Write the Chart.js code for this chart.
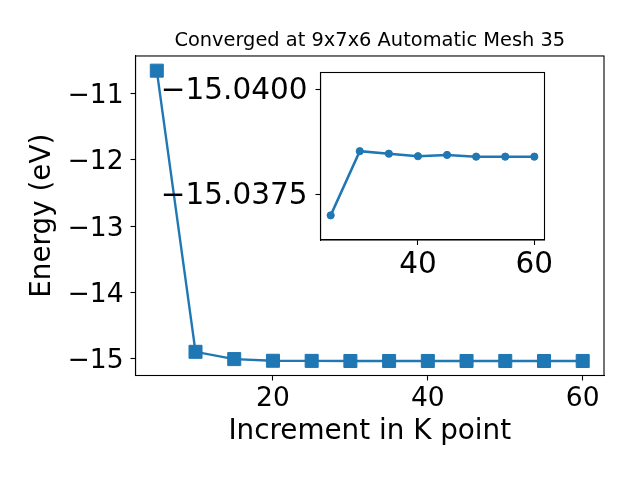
<!DOCTYPE html>
<html><head><meta charset="utf-8">
<script src="https://cdn.jsdelivr.net/npm/chart.js@4"></script>
<style>
html,body{margin:0;padding:0;background:#fff}
#wrap{position:relative;width:640px;height:480px}
canvas{position:absolute;left:0;top:0}
</style></head><body>
<div id="wrap"><canvas id="main" width="640" height="480"></canvas><canvas id="inset" width="640" height="480"></canvas></div>
<script>
// ---- data ----
const kPoints = [5, 10, 15, 20, 25, 30, 35, 40, 45, 50, 55, 60];
const energy = [-10.65, -14.90, -15.01, -15.035, -15.0370, -15.03853, -15.03847, -15.03841, -15.03844, -15.03840, -15.03840, -15.03840];
const insetStartIndex = 4; // inset shows k = 25 .. 60
const mainXTicks = [20, 40, 60];
const mainYTicks = [-15, -14, -13, -12, -11];
const insetXTicks = [40, 60];
const insetYTicks = [-15.0400, -15.0375];
const titleText = 'Converged at 9x7x6 Automatic Mesh 35';
const xLabel = 'Increment in K point';
const yLabel = 'Energy (eV)';

// ---- rendering ----
const FONT = 'DejaVu Sans';
const BLUE = '#1f77b4';
const minus = s => String(s).replace('-', '\u2212');

const frame = {
  id: 'frame',
  beforeDraw(chart, args, opts) {
    if (opts.fill) {
      const a = chart.chartArea, ctx = chart.ctx;
      ctx.save(); ctx.fillStyle = '#fff';
      ctx.fillRect(a.left, a.top, a.right - a.left, a.bottom - a.top);
      ctx.restore();
    }
  },
  afterDraw(chart) {
    const a = chart.chartArea, ctx = chart.ctx;
    ctx.save(); ctx.strokeStyle = '#000'; ctx.lineWidth = 1.1;
    ctx.strokeRect(a.left, a.top, a.right - a.left, a.bottom - a.top);
    ctx.restore();
  }
};

function axis(extra) {
  return Object.assign({
    type: 'linear',
    grid: { drawOnChartArea: false, drawTicks: true, tickLength: 5, tickColor: '#000', tickWidth: 1.1 },
    border: { display: true, color: '#000', width: 1.1 }
  }, extra);
}

const mainPts = kPoints.map((k, i) => ({ x: k, y: energy[i] }));
const insetPts = kPoints.slice(insetStartIndex).map((k, i) => ({ x: k, y: energy[i + insetStartIndex] }));

new Chart(document.getElementById('main'), {
  type: 'line',
  data: { datasets: [{
    data: mainPts, borderColor: BLUE, backgroundColor: BLUE, borderWidth: 2.4,
    pointStyle: 'rect', pointRadius: 9.2, pointBorderWidth: 1, pointBorderColor: BLUE, pointBackgroundColor: BLUE,
    tension: 0
  }]},
  options: {
    responsive: false, animation: false, devicePixelRatio: 1,
    layout: { padding: { left: 26, right: 36, top: 0, bottom: 32 } },
    plugins: {
      legend: { display: false }, tooltip: { enabled: false },
      title: { display: true, text: titleText, fullSize: false, color: '#000',
        font: { family: FONT, size: 19.4, weight: 'normal' }, padding: { top: 29.7, bottom: 3 } },
      frame: { fill: false }
    },
    scales: {
      x: axis({
        min: 2.25, max: 62.75,
        afterBuildTicks: s => { s.ticks = mainXTicks.map(v => ({ value: v })); },
        afterFit: s => { s.height = 72.5; },
        ticks: { color: '#000', font: { family: FONT, size: 26.5 }, padding: 3, maxRotation: 0, autoSkip: false, callback: v => minus(v) },
        title: { display: true, text: xLabel, color: '#000', font: { family: FONT, size: 27.8 }, padding: 0 }
      }),
      y: axis({
        min: -15.258, max: -10.428,
        afterBuildTicks: s => { s.ticks = mainYTicks.map(v => ({ value: v })); },
        afterFit: s => { s.width = 109.5; },
        ticks: { color: '#000', font: { family: FONT, size: 26.5 }, padding: 7, labelOffset: 2.5, autoSkip: false, callback: v => minus(v) },
        title: { display: true, text: yLabel, color: '#000', font: { family: FONT, size: 27.8 }, padding: 0 }
      })
    }
  },
  plugins: [frame]
});

new Chart(document.getElementById('inset'), {
  type: 'line',
  data: { datasets: [{
    data: insetPts, borderColor: BLUE, backgroundColor: BLUE, borderWidth: 2.5,
    pointStyle: 'circle', pointRadius: 3.6, pointBorderWidth: 1, pointBorderColor: BLUE, pointBackgroundColor: BLUE,
    tension: 0
  }]},
  options: {
    responsive: false, animation: false, devicePixelRatio: 1,
    layout: { padding: { left: 0, right: 95.5, top: 72.5, bottom: 0 } },
    plugins: { legend: { display: false }, tooltip: { enabled: false }, title: { display: false }, frame: { fill: true } },
    scales: {
      x: axis({
        min: 23.25, max: 61.75,
        afterBuildTicks: s => { s.ticks = insetXTicks.map(v => ({ value: v })); },
        afterFit: s => { s.height = 240; },
        ticks: { color: '#000', font: { family: FONT, size: 29.5 }, padding: 3, maxRotation: 0, autoSkip: false, callback: v => minus(v) }
      }),
      y: axis({
        reverse: true, min: -15.040405, max: -15.036413,
        afterBuildTicks: s => { s.ticks = insetYTicks.map(v => ({ value: v })); },
        afterFit: s => { s.width = 320.5; },
        ticks: { color: '#000', font: { family: FONT, size: 29.5 }, padding: 8, labelOffset: 2, autoSkip: false, callback: v => minus(Number(v).toFixed(4)) }
      })
    }
  },
  plugins: [frame]
});
</script>
</body></html>
